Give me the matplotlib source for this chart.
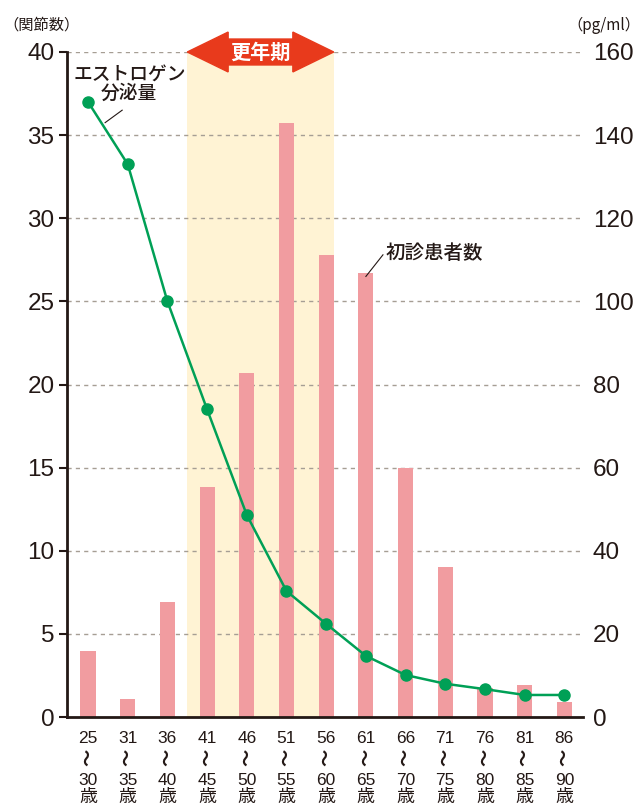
import numpy as np
import matplotlib.pyplot as plt
from matplotlib.patches import Polygon

plt.rcParams['font.family'] = ['Noto Sans CJK JP', 'DejaVu Sans']
num_font = ['Liberation Sans', 'Noto Sans CJK JP']

# data
age_from = ['25', '31', '36', '41', '46', '51', '56', '61', '66', '71', '76', '81', '86']
age_to = ['30', '35', '40', '45', '50', '55', '60', '65', '70', '75', '80', '85', '90']
patients = [4.0, 1.1, 6.9, 13.85, 20.7, 35.7, 27.8, 26.7, 15.0, 9.0, 1.75, 1.9, 0.9]
estrogen = [148, 133, 100, 74, 48.6, 30.3, 22.4, 14.7, 10.1, 8.0, 6.7, 5.3, 5.3]
left_ticks = [0, 5, 10, 15, 20, 25, 30, 35, 40]
right_ticks = [0, 20, 40, 60, 80, 100, 120, 140, 160]

txt = '#231815'
pink = '#f19ca0'
green = '#00a056'
band = '#fff3d4'
red = '#e83a1c'
gridc = '#a69e94'

fig = plt.figure(figsize=(6.42, 8.09), dpi=100)
ax = fig.add_axes([67/642, 1-717/809, (583-67)/642, (717-52)/809])
x = np.arange(len(patients))

# menopause band (41-60)
ax.axvspan(2.5, 6.19, color=band, zorder=0, lw=0)
for t in left_ticks[1:]:
    ax.axhline(t, color=gridc, lw=1, ls=(0, (3, 3)), zorder=1)
ax.bar(x, patients, width=0.38, color=pink, zorder=2)

ax.set_xlim(-0.53, 12.47)
ax.set_ylim(0, 40)
ax.set_yticks(left_ticks)
ax.tick_params(axis='y', length=6, width=1.5, color=txt, pad=3, labelsize=17.5, labelcolor=txt)
for lab in ax.get_yticklabels():
    lab.set_family(num_font)
ax.set_xticks([])
for s in ['top', 'right']:
    ax.spines[s].set_visible(False)
ax.spines['left'].set_linewidth(2)
ax.spines['left'].set_color(txt)
ax.spines['bottom'].set_linewidth(2)
ax.spines['bottom'].set_color(txt)

# x labels: "25 ～ 30 歳" stacked
for i in x:
    kw = dict(xycoords=('data', 'axes fraction'), xy=(i, 0), textcoords='offset points',
              ha='center', color=txt, annotation_clip=False)
    ax.annotate(age_from[i], xytext=(0, -18.7), va='baseline', fontsize=12.5, family=num_font, **kw)
    ax.annotate('〜', xytext=(0, -28.8), va='center', rotation=90, fontsize=12.5,
                fontweight='bold', **kw)
    ax.annotate(age_to[i], xytext=(0, -49), va='baseline', fontsize=12.5, family=num_font, **kw)
    ax.annotate('歳', xytext=(0, -61.5), va='baseline', fontsize=13, **kw)

ax2 = ax.twinx()
ax2.set_ylim(0, 160)
ax2.set_yticks(right_ticks)
ax2.tick_params(axis='y', length=0, pad=7, labelsize=17.5, labelcolor=txt)
for lab in ax2.get_yticklabels():
    lab.set_family(num_font)
for s in ['top', 'right', 'left', 'bottom']:
    ax2.spines[s].set_visible(False)
ax2.plot(x, estrogen, color=green, lw=1.8, marker='o', markersize=8, zorder=3, clip_on=False)

# menopause arrow
x0, x1, yc = 2.5, 6.19, 40
hl, bh, hh = 1.03, 0.78, 1.2
pts = [(x0, yc), (x0 + hl, yc + hh), (x0 + hl, yc + bh), (x1 - hl, yc + bh), (x1 - hl, yc + hh),
       (x1, yc), (x1 - hl, yc - hh), (x1 - hl, yc - bh), (x0 + hl, yc - bh), (x0 + hl, yc - hh)]
ax2.add_patch(Polygon(pts, closed=True, color=red, transform=ax.transData, clip_on=False, zorder=5))
ax2.text((x0 + x1) / 2, yc, '更年期', transform=ax.transData, ha='center', va='center',
         color='white', fontsize=14.5, fontweight='bold', zorder=6)

# annotations
ax2.text(1.04, 154.4, 'エストロゲン', ha='center', va='center', fontsize=13.5,
         color=txt, fontweight='medium', zorder=6)
ax2.text(1.04, 150.0, '分泌量', ha='center', va='center', fontsize=13.5,
         color=txt, fontweight='medium', zorder=6)
ax2.plot([0.86, 0.43], [146, 143], color=txt, lw=0.8, zorder=6)
ax.text(7.5, 27.9, '初診患者数', ha='left', va='center', fontsize=14, color=txt,
        fontweight='medium', zorder=6)
ax.plot([7.43, 7.0], [27.8, 26.5], color=txt, lw=0.8, zorder=6)

fig.text(3/642, 1-25/809, '（関節数）', ha='left', va='center', fontsize=11, color=txt)
fig.text(640/642, 1-25/809, '（pg/ml）', ha='right', va='center', fontsize=11, color=txt)

fig.savefig('out.png', dpi=100)
